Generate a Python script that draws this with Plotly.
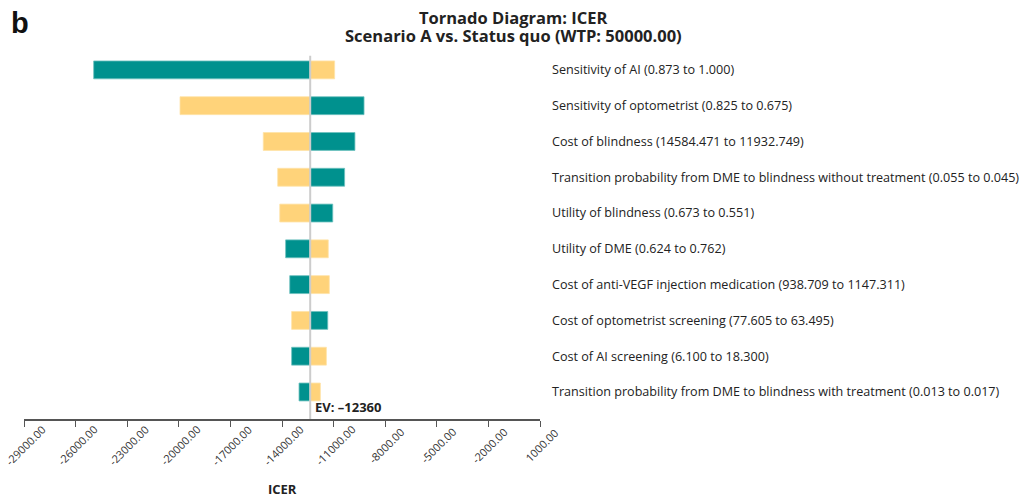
import plotly.graph_objects as go

# parameters (top to bottom) and ICER at each end of the range
params = [
    "Sensitivity of AI (0.873 to 1.000)",
    "Sensitivity of optometrist (0.825 to 0.675)",
    "Cost of blindness (14584.471 to 11932.749)",
    "Transition probability from DME to blindness without treatment (0.055 to 0.045)",
    "Utility of blindness (0.673 to 0.551)",
    "Utility of DME (0.624 to 0.762)",
    "Cost of anti-VEGF injection medication (938.709 to 1147.311)",
    "Cost of optometrist screening (77.605 to 63.495)",
    "Cost of AI screening (6.100 to 18.300)",
    "Transition probability from DME to blindness with treatment (0.013 to 0.017)",
]
icer_teal = [-24950, -9230, -9760, -10360, -11050, -13790, -13550, -11340, -13440, -13010]
icer_yellow = [-10940, -19930, -15090, -14250, -14130, -11310, -11250, -13440, -11420, -11770]
ev = -12360

tick_vals = list(range(-29000, 1001, 3000))
tick_text = ["%.2f" % v for v in tick_vals]

TEAL = "#00918E"
YELLOW = "#FFD37A"
FONT = "Open Sans"

W, H = 1031, 498
PL, PR, PT, PB = 24, 540, 52, 419   # plot area edges in pixels
ph = PB - PT


def px_x(x):
    return (x - PL) / (PR - PL)


def px_y(y):
    return 1 - (y - PT) / ph


fig = go.Figure()
fig.add_trace(go.Bar(y=params, x=[v - ev for v in icer_teal], base=ev, orientation="h",
                     marker=dict(color=TEAL, line=dict(color="#6fc2bf", width=0.8)), width=0.5))
fig.add_trace(go.Bar(y=params, x=[v - ev for v in icer_yellow], base=ev, orientation="h",
                     marker=dict(color=YELLOW, line=dict(color="#ffe3a8", width=0.8)), width=0.5))

fig.add_shape(type="line", x0=ev, x1=ev, xref="x", y0=0, y1=0.99, yref="paper",
              line=dict(color="#cccccc", width=2), layer="above")

fig.update_layout(
    template="none",
    width=W, height=H,
    margin=dict(l=PL, r=W - PR, t=PT, b=H - PB),
    barmode="overlay",
    showlegend=False,
    plot_bgcolor="white", paper_bgcolor="white",
    font=dict(family=FONT, color="#222222"),
)
fig.update_xaxes(range=[-29000, 1000], tickvals=tick_vals, showticklabels=False,
                 showgrid=False, zeroline=False, showline=True, linecolor="#555555", linewidth=1.5,
                 ticks="outside", ticklen=6, tickcolor="#555555", automargin=False)
fig.update_yaxes(categoryorder="array", categoryarray=params, range=[9.755, -0.5], side="right",
                 showgrid=False, zeroline=False, showline=False, ticks="", ticklabelstandoff=11,
                 tickfont=dict(size=12.6, color="#222222"), automargin=False)

# x tick labels rotated about their centre
for v, t in zip(tick_vals, tick_text):
    fig.add_annotation(text=t, x=v, xref="x", xanchor="center", xshift=1, y=px_y(445), yref="paper",
                       yanchor="middle", textangle=-45, showarrow=False,
                       font=dict(size=11, color="#333333"))

fig.add_annotation(text="<b>EV: \u201312360</b>", x=ev, xref="x", y=9.42, yref="y",
                   xanchor="left", yanchor="middle", xshift=3, showarrow=False,
                   font=dict(size=13, color="#222222"))
fig.add_annotation(text="<b>Tornado Diagram: ICER</b>", x=px_x(513), xref="paper", xanchor="center",
                   y=px_y(17), yref="paper", yanchor="middle", showarrow=False,
                   font=dict(size=16.5, color="#222222"))
fig.add_annotation(text="<b>Scenario A vs. Status quo (WTP: 50000.00)</b>", x=px_x(513), xref="paper",
                   xanchor="center", y=px_y(35), yref="paper", yanchor="middle", showarrow=False,
                   font=dict(size=16.5, color="#222222"))
fig.add_annotation(text="<b>b</b>", x=px_x(20), xref="paper", xanchor="center", y=px_y(23), yref="paper",
                   yanchor="middle", showarrow=False, font=dict(size=29, family="Liberation Sans", color="#111111"))
fig.add_annotation(text="<b>ICER</b>", x=0.5, xref="paper", xanchor="center", y=px_y(489), yref="paper",
                   yanchor="middle", showarrow=False, font=dict(size=13, color="#222222"))

fig.write_html("out.html", config={"displayModeBar": False},
               post_script="document.body.style.margin='0';")
